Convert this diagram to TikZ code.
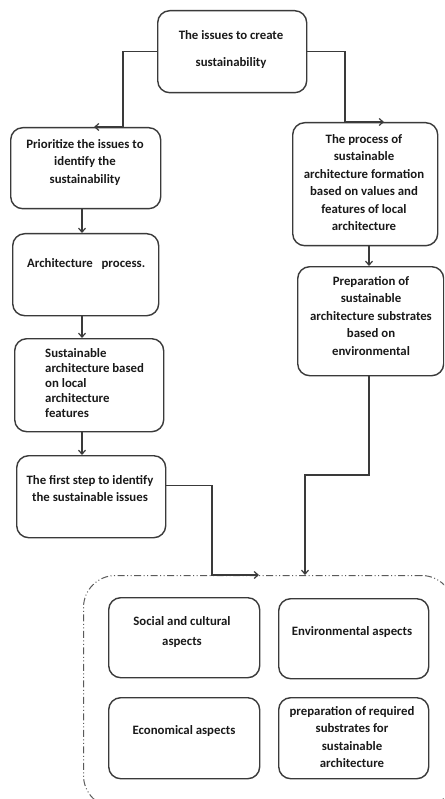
\documentclass[tikz,border=0pt]{standalone}
\usepackage{fontspec}
\setmainfont{Carlito}
\usetikzlibrary{arrows.meta}
\definecolor{lc}{HTML}{3A3A3A}
\definecolor{dc}{HTML}{5A5A5A}
\tikzset{
  box/.style={draw=lc, line width=1.4pt, rounded corners=12pt, anchor=north west, inner sep=0pt},
  txt/.style={font=\fontsize{12.8}{17.5}\selectfont\bfseries, text=black!90, align=center, anchor=north, inner sep=0pt},
  txtl/.style={txt, align=left, anchor=north west},
  arr/.style={draw=lc, line width=1.2pt, -{Straight Barb[length=4pt,width=7pt]}},
  group/.style={draw=dc, line width=1pt, rounded corners=32pt, anchor=north west, inner sep=0pt,
    dash pattern=on 7pt off 2.5pt on 1pt off 2.5pt on 1pt off 2.5pt}
}
\begin{document}
\begin{tikzpicture}[x=1pt,y=-1pt]
\useasboundingbox (0,0) rectangle (444,799);
\clip (0,0) rectangle (444,799);
% boxes
\node[box, minimum width=149pt, minimum height=82pt] (top) at (157,10) {};
\node[box, minimum width=150pt, minimum height=81pt] (L1) at (10,127) {};
\node[box, minimum width=146pt, minimum height=82pt] (L2) at (12,233) {};
\node[box, minimum width=149pt, minimum height=93pt] (L3) at (14,338) {};
\node[box, minimum width=149pt, minimum height=82pt] (L4) at (16,455) {};
\node[box, minimum width=145pt, minimum height=123pt] (R1) at (292,122) {};
\node[box, minimum width=146pt, minimum height=109pt] (R2) at (297,266) {};
\node[group, minimum width=370pt, minimum height=232pt] (C) at (83,575) {};
\node[box, minimum width=151pt, minimum height=80pt] (S) at (108,597) {};
\node[box, minimum width=150pt, minimum height=80pt] (E) at (278,598) {};
\node[box, minimum width=151pt, minimum height=81pt] (Ec) at (108,697) {};
\node[box, minimum width=150pt, minimum height=81pt] (P) at (278,697) {};
% texts
\node[txt] (ttop) at (231,30) {The issues to create\\[10pt]sustainability};
\node[txt] (tL1) at (85,139) {Prioritize the issues to\\identify the\\sustainability};
\node[txtl] (tL2) at (27,258) {Architecture\ \ \ process.};
\node[txtl, font=\fontsize{12.8}{15}\selectfont\bfseries] (tL3) at (45,348) {Sustainable\\architecture based\\on local\\architecture\\features};
\node[txt] (tL4) at (90,475) {The first step to identify\\the sustainable issues};
\node[txt] (tR1) at (364,134) {The process of\\sustainable\\architecture formation\\based on values and\\features of local\\architecture};
\node[txt] (tR2) at (371,276) {Preparation of\\sustainable\\architecture substrates\\based on\\environmental};
\node[txt, font=\fontsize{12.8}{20}\selectfont\bfseries] (tS) at (182,616) {Social and cultural\\aspects};
\node[txt] (tE) at (352,626) {Environmental aspects};
\node[txt] (tEc) at (184,725) {Economical aspects};
\node[txt] (tP) at (352,706) {preparation of required\\substrates for\\sustainable\\architecture};
% helper coordinates
\coordinate (lx) at (123,0);
\coordinate (la) at (94,0);
\coordinate (rx) at (345,0);
\coordinate (ra) at (384,0);
\coordinate (cx) at (82,0);
\coordinate (r2x) at (369,0);
\coordinate (jx) at (212,0);
\coordinate (ex) at (259,0);
\coordinate (bend) at (305,475);
% connectors
\draw[arr] (top.west) -| (lx |- L1.north) -- (la |- L1.north);
\draw[arr] (top.east) -| (rx |- R1.north) -- (ra |- R1.north);
\draw[arr] (L1.south -| cx) -- (L2.north -| cx);
\draw[arr] (L2.south -| cx) -- (L3.north -| cx);
\draw[arr] (L3.south -| cx) -- (L4.north -| cx);
\draw[arr] (R1.south -| r2x) -- (R2.north -| r2x);
\draw[arr] ([yshift=11pt]L4.east) -| (jx |- C.north) -- (ex |- C.north);
\draw[arr] (R2.south -| r2x) |- (bend) -- (bend |- C.north);
\end{tikzpicture}
\end{document}
